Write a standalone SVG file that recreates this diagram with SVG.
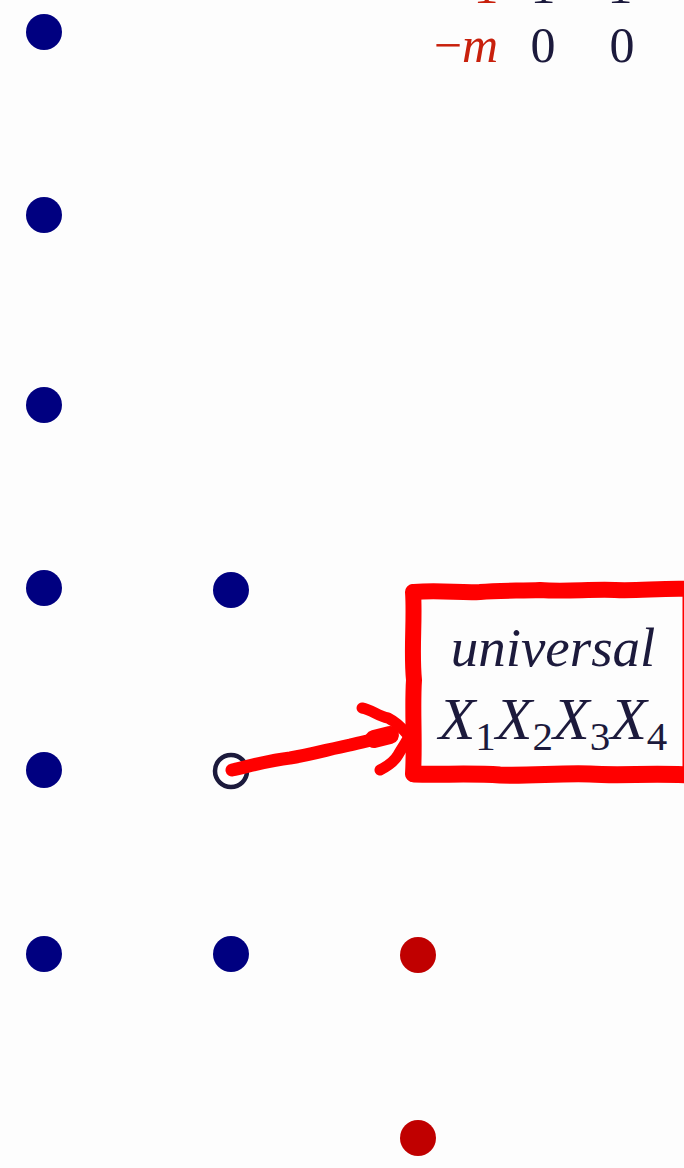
<svg xmlns="http://www.w3.org/2000/svg" width="684" height="1168" viewBox="0 0 684 1168">
<style>
.dot{fill:#000080}
.rdot{fill:#c00000}
.t{font-family:'Liberation Serif','Times New Roman',serif;fill:#1c1a3c}
.r{fill:#c8200c}
.it{font-style:italic}
.hand{fill:none;stroke:#ff0000;stroke-linecap:round;stroke-linejoin:round}
</style>
<rect width="684" height="1168" fill="#fdfdfd"/>
<g id="header">
<text class="t r" x="486" y="3" font-size="50" text-anchor="middle">1</text>
<text class="t" x="543" y="3" font-size="50" text-anchor="middle">1</text>
<text class="t" x="620" y="3" font-size="50" text-anchor="middle">1</text>
<text class="t r" x="498" y="62" font-size="50" text-anchor="end">−<tspan class="it">m</tspan></text>
<text class="t" x="543" y="62" font-size="50" text-anchor="middle">0</text>
<text class="t" x="622" y="62" font-size="50" text-anchor="middle">0</text>
</g>
<g id="col1">
<circle class="dot" cx="44" cy="32" r="18"/>
<circle class="dot" cx="44" cy="215" r="18"/>
<circle class="dot" cx="44" cy="405" r="18"/>
<circle class="dot" cx="44" cy="588" r="18"/>
<circle class="dot" cx="44" cy="770" r="18"/>
<circle class="dot" cx="44" cy="954" r="18"/>
</g>
<g id="col2">
<circle class="dot" cx="231" cy="590" r="18"/>
<circle cx="231" cy="771" r="16" fill="#ffffff" stroke="#1c1a3c" stroke-width="4.5"/>
<circle class="dot" cx="231" cy="954" r="18"/>
</g>
<g id="col3">
<circle class="rdot" cx="418" cy="955" r="18"/>
<circle class="rdot" cx="418" cy="1138" r="18"/>
</g>
<g id="connectors">
<path class="hand" stroke-width="13" d="M232 770 C250 766 270 760 290 758 C310 755 330 749 350 745 C362 742 372 740 384 737"/>
<path class="hand" stroke-width="18" d="M374 739 L390 735"/>
<path class="hand" stroke-width="11" d="M362 708 C372 710 378 716 388 718 C396 722 402 728 407 734"/>
<path class="hand" stroke-width="11" d="M380 770 C388 766 394 762 398 755 C402 748 405 744 407 740"/>
</g>
<g id="box">
<path class="hand" stroke-width="16" d="M414 592 C440 590 460 593 480 592 C500 590 520 591 540 590 C565 592 590 589 615 590 C640 591 660 588 690 589"/>
<path class="hand" stroke-width="16" d="M413 592 C415 620 411 650 414 680 C412 710 415 740 413 774"/>
<path class="hand" stroke-width="17" d="M414 774 C440 775 470 773 500 775 C530 776 560 773 590 774 C620 776 650 773 690 775"/>
<path class="hand" stroke-width="15" d="M690 590 L690 775"/>
<text class="t it" x="553" y="666" font-size="55" text-anchor="middle">universal</text>
<text class="t it" x="553" y="739" font-size="60" text-anchor="middle">X<tspan font-size="41" font-style="normal" dy="11">1</tspan><tspan dy="-11">X</tspan><tspan font-size="41" font-style="normal" dy="11">2</tspan><tspan dy="-11">X</tspan><tspan font-size="41" font-style="normal" dy="11">3</tspan><tspan dy="-11">X</tspan><tspan font-size="41" font-style="normal" dy="11">4</tspan></text>
</g>
</svg>
